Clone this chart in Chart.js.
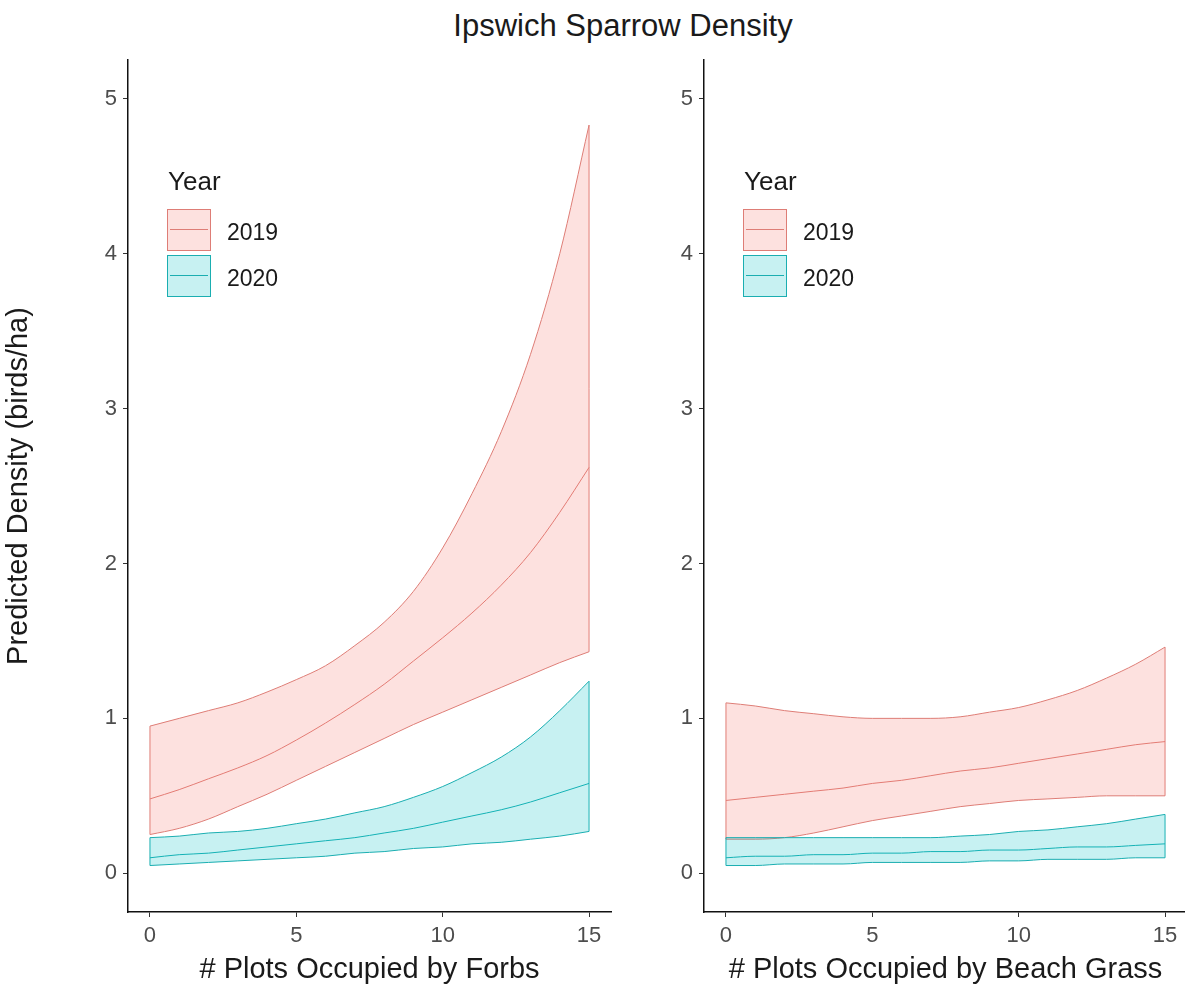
<!DOCTYPE html>
<html>
<head>
<meta charset="utf-8">
<script src="https://cdn.jsdelivr.net/npm/chart.js@4/dist/chart.umd.min.js"></script>
<style>
  html, body { margin: 0; padding: 0; background: #fff; overflow: hidden; }
  body { position: relative; width: 1185px; height: 987px; font-family: "Liberation Sans", Arial, sans-serif; }
  canvas { position: absolute; top: 0; }
  #forbs { left: 0; }
  #grass { left: 600px; }
  #title { position: absolute; top: 10px; left: 623px; transform: translateX(-50%); font-size: 31px; line-height: 31px; color: #1a1a1a; white-space: nowrap; }
  .legend { position: absolute; top: 0; color: #1a1a1a; }
  .legend .head { position: absolute; left: 0; top: 168px; font-size: 26px; line-height: 26px; }
  .legend .key { position: absolute; left: -1px; width: 42px; height: 40px; border: 1px solid; }
  .legend .key span { position: absolute; left: 2px; right: 2px; top: 19px; height: 1px; }
  .legend .label { position: absolute; left: 59px; font-size: 23px; line-height: 23px; }
</style>
</head>
<body>
<div id="title">Ipswich Sparrow Density</div>
<canvas id="forbs" width="640" height="987"></canvas>
<canvas id="grass" width="600" height="987"></canvas>
<script>
const xValues = [0, 1, 2, 3, 4, 5, 6, 7, 8, 9, 10, 11, 12, 13, 14, 15];
const xTicks = [0, 5, 10, 15];
const yTicks = [0, 1, 2, 3, 4, 5];
const years = ["2019", "2020"];

// forbs panel
const forbs2019Lower = [0.25, 0.29, 0.35, 0.43, 0.51, 0.60, 0.69, 0.78, 0.87, 0.96, 1.04, 1.12, 1.20, 1.28, 1.36, 1.43];
const forbs2019Mean  = [0.48, 0.54, 0.61, 0.68, 0.76, 0.86, 0.97, 1.09, 1.22, 1.37, 1.52, 1.68, 1.86, 2.07, 2.33, 2.62];
const forbs2019Upper = [0.95, 1.00, 1.05, 1.10, 1.17, 1.25, 1.34, 1.47, 1.62, 1.82, 2.10, 2.45, 2.85, 3.35, 4.00, 4.83];
const forbs2020Lower = [0.05, 0.06, 0.07, 0.08, 0.09, 0.10, 0.11, 0.13, 0.14, 0.16, 0.17, 0.19, 0.20, 0.22, 0.24, 0.27];
const forbs2020Mean  = [0.10, 0.12, 0.13, 0.15, 0.17, 0.19, 0.21, 0.23, 0.26, 0.29, 0.33, 0.37, 0.41, 0.46, 0.52, 0.58];
const forbs2020Upper = [0.23, 0.24, 0.26, 0.27, 0.29, 0.32, 0.35, 0.39, 0.43, 0.49, 0.56, 0.65, 0.75, 0.88, 1.05, 1.24];

// beach grass panel
const grass2019Lower = [0.22, 0.22, 0.23, 0.26, 0.30, 0.34, 0.37, 0.40, 0.43, 0.45, 0.47, 0.48, 0.49, 0.50, 0.50, 0.50];
const grass2019Mean  = [0.47, 0.49, 0.51, 0.53, 0.55, 0.58, 0.60, 0.63, 0.66, 0.68, 0.71, 0.74, 0.77, 0.80, 0.83, 0.85];
const grass2019Upper = [1.10, 1.08, 1.05, 1.03, 1.01, 1.00, 1.00, 1.00, 1.01, 1.04, 1.07, 1.12, 1.18, 1.26, 1.35, 1.46];
const grass2020Lower = [0.05, 0.05, 0.06, 0.06, 0.06, 0.07, 0.07, 0.07, 0.07, 0.08, 0.08, 0.09, 0.09, 0.09, 0.10, 0.10];
const grass2020Mean  = [0.10, 0.11, 0.11, 0.12, 0.12, 0.13, 0.13, 0.14, 0.14, 0.15, 0.15, 0.16, 0.17, 0.17, 0.18, 0.19];
const grass2020Upper = [0.23, 0.23, 0.23, 0.23, 0.23, 0.23, 0.23, 0.23, 0.24, 0.25, 0.27, 0.28, 0.30, 0.32, 0.35, 0.38];

const lineColors = ["#de7d76", "#1aaeb1"];
const fillColors = ["rgba(248,118,109,0.22)", "rgba(0,191,196,0.22)"];

Chart.defaults.font.family = '"Liberation Sans", Arial, sans-serif';

const points = (ys) => ys.map((y, i) => ({ x: xValues[i], y }));

function band(lower, mean, upper, yearIndex, order) {
  const color = lineColors[yearIndex];
  const last = xValues.length - 1;
  const curve = { borderColor: color, borderWidth: 1, cubicInterpolationMode: "monotone", order };
  const edge = { borderColor: color, borderWidth: 1, order };
  return [
    { ...curve, data: points(lower) },
    { ...curve, data: points(upper), fill: "-1", backgroundColor: fillColors[yearIndex] },
    { ...curve, data: points(mean) },
    { ...edge, data: [{ x: xValues[0], y: lower[0] }, { x: xValues[0], y: upper[0] }] },
    { ...edge, data: [{ x: xValues[last], y: lower[last] }, { x: xValues[last], y: upper[last] }] }
  ];
}

function makePanel(id, xTitle, yTitle, yWidth, padRight, sets) {
  const tickGrid = { display: true, drawOnChartArea: false, drawTicks: true, tickLength: 5, color: "#333" };
  return new Chart(document.getElementById(id), {
    type: "line",
    data: {
      // 2020 first so its ribbon sits on top of 2019
      datasets: [...band(...sets[1], 1, 1), ...band(...sets[0], 0, 2)]
    },
    options: {
      responsive: false,
      animation: false,
      devicePixelRatio: 1,
      layout: { padding: { top: 60, right: padRight, bottom: 0, left: 0 } },
      elements: { point: { radius: 0 } },
      plugins: { legend: { display: false }, tooltip: { enabled: false } },
      scales: {
        x: {
          type: "linear",
          min: -0.75,
          max: 15.75,
          afterBuildTicks: (s) => { s.ticks = xTicks.map((v) => ({ value: v })); },
          afterFit: (s) => { s.height = 75; },
          ticks: { color: "#4d4d4d", font: { size: 22 }, padding: 6, maxRotation: 0 },
          grid: tickGrid,
          border: { display: true, color: "#111", width: 1.5 },
          title: { display: true, text: xTitle, color: "#1a1a1a", font: { size: 29 }, padding: { top: 0, bottom: 0 } }
        },
        y: {
          type: "linear",
          min: -0.25,
          max: 5.25,
          afterBuildTicks: (s) => { s.ticks = yTicks.map((v) => ({ value: v })); },
          afterFit: (s) => { s.width = yWidth; },
          ticks: { color: "#4d4d4d", font: { size: 22 }, padding: 6 },
          grid: tickGrid,
          border: { display: true, color: "#111", width: 1.5 },
          title: { display: !!yTitle, text: yTitle, color: "#1a1a1a", font: { size: 29 }, padding: { top: 2, bottom: 0 } }
        }
      }
    }
  });
}

makePanel("forbs", "# Plots Occupied by Forbs", "Predicted Density (birds/ha)", 128, 29, [
  [forbs2019Lower, forbs2019Mean, forbs2019Upper],
  [forbs2020Lower, forbs2020Mean, forbs2020Upper]
]);
makePanel("grass", "# Plots Occupied by Beach Grass", "", 104, 13, [
  [grass2019Lower, grass2019Mean, grass2019Upper],
  [grass2020Lower, grass2020Mean, grass2020Upper]
]);

function addLegend(left) {
  const box = document.createElement("div");
  box.className = "legend";
  box.style.left = left + "px";
  const head = document.createElement("div");
  head.className = "head";
  head.textContent = "Year";
  box.appendChild(head);
  years.forEach((year, i) => {
    const key = document.createElement("div");
    key.className = "key";
    key.style.top = (209 + i * 46) + "px";
    key.style.borderColor = lineColors[i];
    key.style.background = fillColors[i];
    const mark = document.createElement("span");
    mark.style.background = lineColors[i];
    key.appendChild(mark);
    const label = document.createElement("div");
    label.className = "label";
    label.style.top = (221 + i * 46) + "px";
    label.textContent = year;
    box.appendChild(key);
    box.appendChild(label);
  });
  document.body.appendChild(box);
}
addLegend(168);
addLegend(744);
</script>
</body>
</html>
